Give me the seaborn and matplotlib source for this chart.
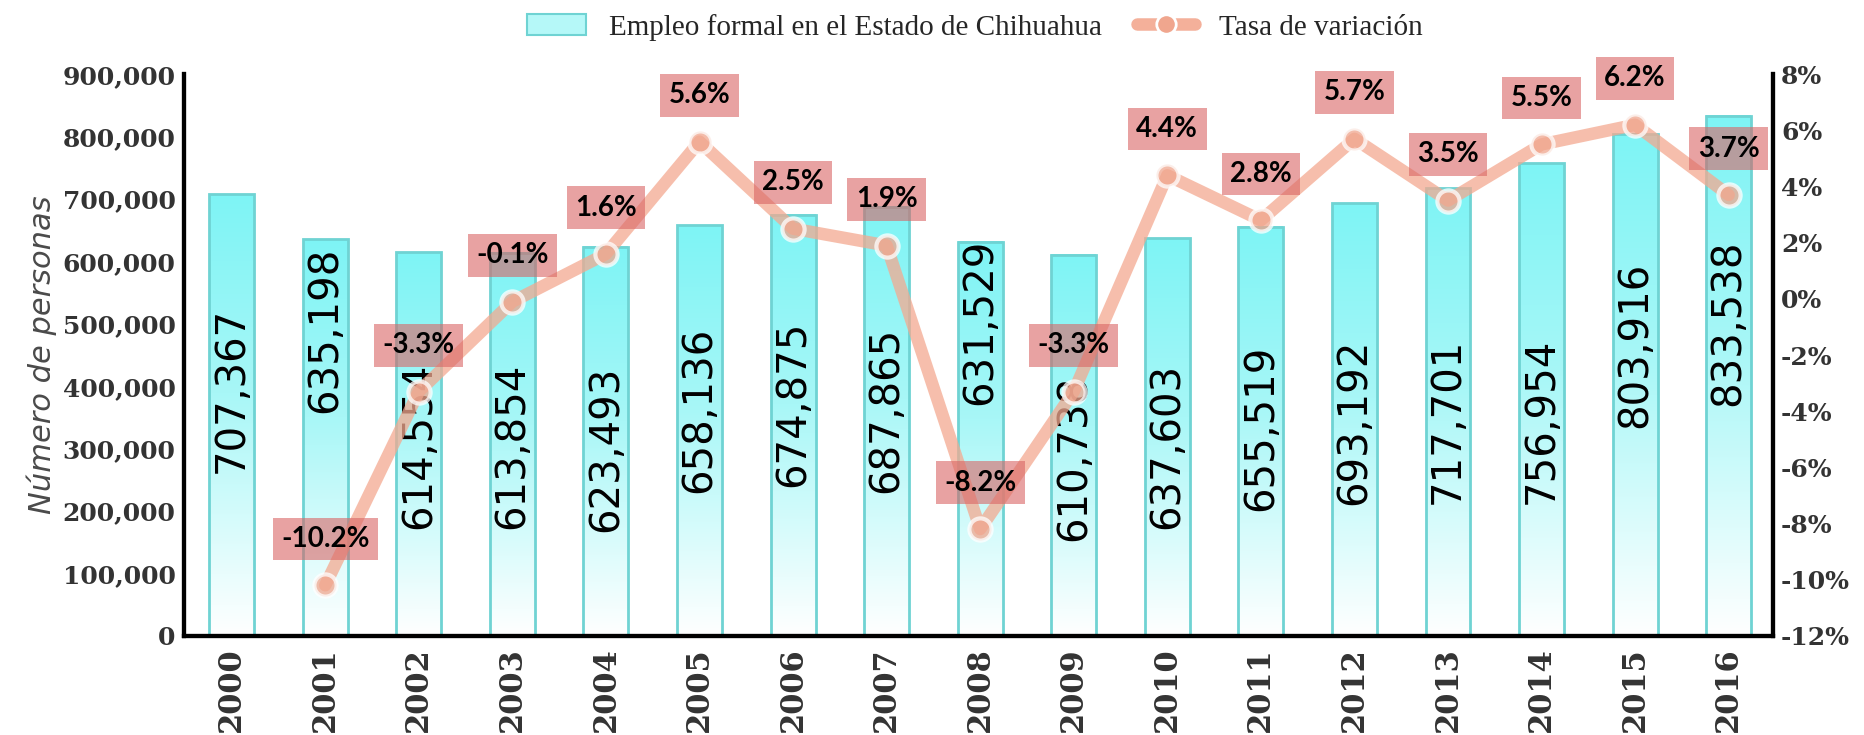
import numpy as np
import pandas as pd
import matplotlib
matplotlib.use("Agg")
import matplotlib.pyplot as plt
from matplotlib.colors import LinearSegmentedColormap
from matplotlib.patches import Patch
from matplotlib.lines import Line2D
from matplotlib.ticker import FuncFormatter, MultipleLocator
import seaborn as sns

# datos
years = ['2000', '2001', '2002', '2003', '2004', '2005', '2006', '2007', '2008',
         '2009', '2010', '2011', '2012', '2013', '2014', '2015', '2016']
empleo = [707367, 635198, 614554, 613854, 623493, 658136, 674875, 687865, 631529,
          610738, 637603, 655519, 693192, 717701, 756954, 803916, 833538]
tasa_years = years[1:]
tasa = [-10.2, -3.3, -0.1, 1.6, 5.6, 2.5, 1.9, -8.2, -3.3, 4.4, 2.8, 5.7, 3.5, 5.5, 6.2, 3.7]

# altura de las etiquetas dentro de las barras (layout)
label_y = [394000, 490000, 305000, 304000, 299000, 362000, 371000, 362000, 504000,
           285000, 304000, 333000, 343000, 345000, 345000, 466000, 501000]

df = pd.DataFrame({'year': years, 'empleo': empleo})
df_t = pd.DataFrame({'pos': [years.index(y) for y in tasa_years], 'tasa': tasa})

sns.set_style("white")
fig = plt.figure(figsize=(18.64, 7.35), dpi=100)
ax = fig.add_axes([0.0987, 0.135, 0.8523, 0.764])

sns.barplot(data=df, x='year', y='empleo', color='#80f5f5', width=0.48, ax=ax,
            edgecolor='#6fd3d3', linewidth=2, zorder=2)

# degradado de las barras
cmap = LinearSegmentedColormap.from_list('g', [(0, '#ffffff'), (0.55, '#a8f7f7'), (1, '#7ef4f5')])
grad = np.linspace(0, 1, 256).reshape(-1, 1)
for p in ax.patches:
    x0, y0, w, h = p.get_x(), p.get_y(), p.get_width(), p.get_height()
    ax.imshow(grad, extent=[x0, x0 + w, y0, y0 + h], origin='lower', aspect='auto',
              cmap=cmap, zorder=1.5)
    p.set_facecolor('none')

for i, (v, ly) in enumerate(zip(empleo, label_y)):
    ax.text(i, ly, f'{v:,}', rotation=90, ha='center', va='center', fontsize=29,
            family='DejaVu Sans', color='black', zorder=3)

ax.set_ylim(0, 900000)
ax.yaxis.set_major_locator(MultipleLocator(100000))
ax.yaxis.set_major_formatter(FuncFormatter(lambda v, p: f'{int(v):,}'))
ax.set_xlabel('')
ax.set_ylabel('Número de personas', fontsize=22, style='italic', color='#4a4a4a',
              family='DejaVu Sans', fontweight='medium', labelpad=4)

# eje secundario
ax2 = ax.twinx()
sns.lineplot(data=df_t, x='pos', y='tasa', ax=ax2, color='#f4a990', linewidth=9,
             alpha=0.75, marker='o', markersize=16, markerfacecolor='#f0a68e',
             markeredgecolor='white', markeredgewidth=3, zorder=4)
for px, t in zip(df_t['pos'], df_t['tasa']):
    ax2.text(px, t + 1.65, f'{t:.1f}%', ha='center', va='center', fontsize=20,
             family='Lato', fontweight='bold', color='black', zorder=5,
             bbox=dict(boxstyle='square,pad=0.3', facecolor='#d96464', alpha=0.6,
                       edgecolor='none'))
ax2.set_ylim(-12, 8)
ax2.yaxis.set_major_locator(MultipleLocator(2))
ax2.yaxis.set_major_formatter(FuncFormatter(lambda v, p: f'{int(round(v))}%'))
ax2.set_ylabel('')

for a in (ax, ax2):
    a.set_xlim(-0.51, 16.47)
    a.spines['top'].set_visible(False)
    for s in ('left', 'right', 'bottom'):
        a.spines[s].set_color('black')
        a.spines[s].set_linewidth(3)

ax.tick_params(axis='x', rotation=90, length=0, pad=8, labelsize=22, labelcolor='#333333')
ax.tick_params(axis='y', length=0, pad=6, labelsize=18, labelcolor='#333333')
ax2.tick_params(axis='y', length=0, pad=6, labelsize=18, labelcolor='#333333')

fig.canvas.draw()
for lab in ax.get_xticklabels() + ax.get_yticklabels() + ax2.get_yticklabels():
    lab.set_fontfamily('DejaVu Serif')
    lab.set_fontweight('bold')

handles = [Patch(facecolor='#b5f8f8', edgecolor='#6fd3d3', linewidth=1.5),
           Line2D([0], [0], color='#f4b09a', linewidth=9, marker='o', markersize=14,
                  markerfacecolor='#f0a68e', markeredgecolor='white', markeredgewidth=2)]
fig.legend(handles, ['Empleo formal en el Estado de Chihuahua', 'Tasa de variación'],
           loc='center', bbox_to_anchor=(0.523, 0.963), ncol=2, frameon=False,
           prop={'family': 'Liberation Serif', 'size': 21}, handlelength=2.0,
           columnspacing=1.2, handletextpad=0.8)

fig.savefig('out.png', dpi=100)
